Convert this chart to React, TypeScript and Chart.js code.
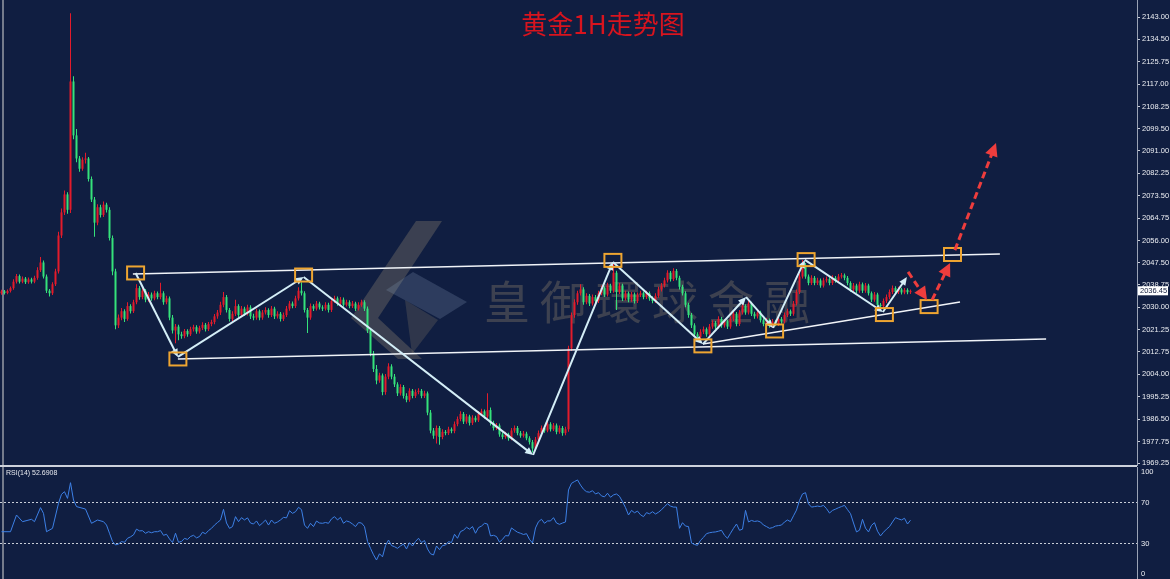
import React, { useEffect, useRef } from "react";
import { Chart, registerables } from "chart.js";
Chart.register(...registerables);

// ---------- data ----------
const titleText = "黄金1H走势图";
const watermarkChars = ["皇", "御", "環", "球", "金", "融"];
const rsiLabel = "RSI(14) 52.6908";
const lastPrice = 2036.45;
const slotCount = 379;
const priceTicks = [2143.0, 2134.5, 2125.75, 2117.0, 2108.25, 2099.5, 2091.0, 2082.25, 2073.5, 2064.75, 2056.0, 2047.5, 2038.75, 2030.0, 2021.25, 2012.75, 2004.0, 1995.25, 1986.5, 1977.75, 1969.25];
const rsiTicks = [100, 70, 30, 0];
const rsiLevels = [70, 30];

const opens = [
  2035.5, 2036.2, 2035.6, 2036.4, 2037.5, 2040.0, 2042.2, 2040.0, 2041.2, 2039.8,
  2040.9, 2040.0, 2041.5, 2044.5, 2047.5, 2042.0, 2036.5, 2035.5, 2039.0, 2044.0,
  2058.0, 2067.0, 2074.0, 2068.0, 2118.0, 2097.0, 2088.0, 2084.0, 2087.5, 2088.0,
  2080.0, 2072.0, 2063.0, 2069.0, 2066.0, 2070.0, 2068.0, 2057.0, 2044.0, 2023.0,
  2026.0, 2028.5, 2025.5, 2030.5, 2028.5, 2032.0, 2037.5, 2034.0, 2036.5, 2033.0,
  2035.0, 2033.5, 2035.5, 2034.0, 2035.5, 2032.0, 2033.5, 2026.0, 2021.0, 2022.5,
  2019.5, 2018.8, 2020.8, 2019.5, 2021.5, 2022.3, 2020.6, 2022.0, 2023.2, 2021.5,
  2023.5, 2024.3, 2026.5, 2028.0, 2031.0, 2034.0, 2029.0, 2025.5, 2027.5, 2030.5,
  2027.0, 2029.5, 2027.5, 2030.0, 2026.5, 2026.0, 2028.5, 2026.0, 2028.0, 2029.0,
  2027.0, 2029.5, 2026.5, 2027.5, 2025.5, 2027.0, 2029.5, 2031.5, 2030.5, 2033.5,
  2036.5, 2035.5, 2029.0, 2026.0, 2030.5, 2029.5, 2031.5, 2030.0, 2029.5, 2031.0,
  2029.0, 2032.5, 2033.5, 2031.5, 2033.0, 2031.0, 2032.0, 2030.5, 2031.5, 2029.5,
  2031.0, 2032.0, 2029.5, 2021.0, 2012.0, 2006.0, 2001.5, 2003.5, 1997.0, 2003.0,
  2007.0, 2003.0, 2000.0, 1996.5, 1999.0, 1995.5, 1994.0, 1997.5, 1995.5, 1997.0,
  1997.5, 1995.5, 1996.5, 1989.0, 1982.0, 1980.0, 1983.0, 1979.5, 1981.5, 1981.0,
  1982.5, 1981.8, 1984.5, 1986.5, 1988.5, 1985.5, 1987.5, 1985.0, 1987.0, 1986.0,
  1988.5, 1989.5, 1987.5, 1990.0, 1985.0, 1983.0, 1984.0, 1980.5, 1979.5, 1980.5,
  1979.0, 1982.0, 1983.0, 1981.0, 1980.0, 1980.8, 1979.0, 1977.5, 1975.0, 1978.5,
  1981.0, 1983.0, 1982.0, 1984.5, 1982.5, 1984.0, 1981.5, 1983.0, 1981.0, 1982.5,
  2014.0, 2027.0, 2032.0, 2035.5, 2037.0, 2032.0, 2034.5, 2031.5, 2034.0, 2032.5,
  2035.5, 2037.5, 2035.0, 2038.5, 2036.5, 2043.5, 2036.0, 2038.5, 2033.5, 2035.5,
  2033.0, 2035.0, 2032.5, 2034.8, 2035.5, 2034.0, 2035.5, 2033.5, 2032.5, 2034.5,
  2037.0, 2038.5, 2040.5, 2043.5, 2041.0, 2044.2, 2041.5, 2038.0, 2035.5, 2031.0,
  2027.0, 2023.0, 2019.5, 2018.5, 2020.5, 2021.5, 2019.5, 2022.5, 2024.0, 2022.5,
  2025.5, 2023.0, 2024.5, 2022.5, 2025.5, 2027.5, 2023.5, 2028.0, 2030.5, 2028.0,
  2031.5, 2027.5, 2026.5, 2028.0, 2025.0, 2023.5, 2025.0, 2023.0, 2024.5, 2023.5,
  2025.5, 2024.5, 2027.0, 2028.5, 2027.5, 2031.5, 2036.0, 2042.0, 2046.5, 2042.0,
  2039.5, 2041.5, 2039.5, 2040.5, 2038.5, 2040.5, 2041.0, 2039.5, 2041.5, 2040.5,
  2042.0, 2042.5, 2041.5, 2039.5, 2037.0, 2038.5, 2036.5, 2039.0, 2036.5, 2038.5,
  2035.5, 2033.0, 2035.0, 2031.0, 2030.5, 2032.5, 2034.0, 2036.0, 2037.5, 2036.0,
  2037.0, 2035.8, 2036.8, 2035.9,
];

const highs = [
  2036.9, 2036.8, 2037.0, 2038.1, 2041.0, 2043.0, 2042.8, 2042.0, 2041.8, 2041.6,
  2041.5, 2042.3, 2045.6, 2049.6, 2048.3, 2042.8, 2037.2, 2039.8, 2045.0, 2059.5,
  2068.5, 2075.5, 2074.8, 2144.6, 2120.0, 2099.5, 2089.0, 2088.5, 2090.2, 2088.6,
  2081.0, 2073.0, 2070.2, 2070.0, 2071.2, 2070.8, 2069.0, 2058.0, 2045.0, 2027.2,
  2029.8, 2029.3, 2032.0, 2031.2, 2033.0, 2039.0, 2038.3, 2037.5, 2037.2, 2036.0,
  2035.8, 2036.5, 2036.2, 2039.6, 2036.3, 2034.5, 2034.2, 2027.0, 2023.5, 2023.2,
  2020.5, 2021.6, 2021.5, 2022.4, 2023.2, 2023.0, 2022.8, 2024.2, 2023.9, 2024.3,
  2025.2, 2027.4, 2029.0, 2032.2, 2036.0, 2034.8, 2029.8, 2028.5, 2033.0, 2031.2,
  2030.5, 2030.2, 2031.0, 2030.8, 2027.5, 2029.5, 2029.2, 2029.0, 2030.0, 2029.7,
  2030.5, 2030.2, 2028.5, 2028.2, 2028.0, 2030.5, 2032.5, 2032.3, 2034.5, 2037.8,
  2039.8, 2036.3, 2029.8, 2031.5, 2031.2, 2032.5, 2032.2, 2030.8, 2032.0, 2031.8,
  2033.5, 2034.5, 2034.2, 2034.0, 2033.8, 2033.0, 2032.8, 2032.5, 2032.2, 2032.0,
  2033.0, 2032.8, 2030.3, 2022.0, 2013.0, 2007.5, 2004.5, 2004.2, 2004.0, 2008.2,
  2007.8, 2004.0, 2000.8, 2000.0, 1999.8, 1996.5, 1998.5, 1998.2, 1998.0, 1998.5,
  1998.2, 1997.5, 1997.2, 1990.0, 1983.0, 1984.0, 1983.8, 1982.5, 1982.2, 1983.5,
  1983.2, 1985.5, 1987.5, 1989.5, 1989.2, 1988.5, 1988.2, 1988.0, 1987.8, 1989.5,
  1990.5, 1990.2, 1996.5, 1991.0, 1985.8, 1985.0, 1984.8, 1981.3, 1981.5, 1981.2,
  1983.0, 1984.0, 1983.8, 1981.8, 1981.8, 1981.5, 1979.8, 1978.3, 1979.5, 1982.0,
  1984.0, 1983.8, 1985.5, 1985.2, 1985.0, 1984.8, 1984.0, 1983.8, 1983.5, 2015.0,
  2028.0, 2033.2, 2036.5, 2039.0, 2037.8, 2035.5, 2035.2, 2035.0, 2034.8, 2036.5,
  2038.5, 2038.2, 2039.6, 2039.2, 2047.2, 2044.3, 2039.5, 2039.2, 2036.5, 2036.2,
  2036.0, 2035.8, 2035.8, 2036.5, 2036.2, 2036.5, 2036.2, 2034.3, 2035.5, 2038.0,
  2039.5, 2041.5, 2044.5, 2044.2, 2045.2, 2044.9, 2042.3, 2038.8, 2036.3, 2031.8,
  2027.8, 2023.8, 2020.3, 2021.5, 2022.5, 2022.2, 2023.5, 2025.0, 2024.7, 2026.5,
  2026.2, 2025.5, 2025.2, 2026.5, 2028.5, 2028.2, 2029.0, 2031.5, 2031.2, 2032.5,
  2032.2, 2028.3, 2029.0, 2028.7, 2025.8, 2026.0, 2025.7, 2025.5, 2025.2, 2026.5,
  2026.2, 2028.0, 2029.5, 2029.2, 2032.5, 2037.0, 2043.2, 2048.5, 2047.3, 2042.8,
  2042.5, 2042.2, 2041.5, 2041.2, 2041.5, 2042.0, 2041.7, 2042.5, 2042.2, 2043.0,
  2043.4, 2043.2, 2042.2, 2040.2, 2039.5, 2039.2, 2040.0, 2039.7, 2039.5, 2039.2,
  2036.2, 2036.0, 2035.7, 2031.7, 2033.5, 2035.0, 2037.0, 2038.5, 2038.2, 2038.0,
  2037.6, 2037.5, 2037.4, 2037.0,
];

const lows = [
  2034.9, 2035.0, 2035.1, 2035.8, 2036.9, 2039.3, 2039.3, 2039.4, 2039.1, 2039.2,
  2039.3, 2039.4, 2040.8, 2043.8, 2041.2, 2035.6, 2034.2, 2034.8, 2038.3, 2043.2,
  2057.0, 2066.0, 2066.5, 2066.8, 2095.5, 2086.5, 2082.8, 2083.2, 2086.0, 2079.0,
  2071.0, 2057.5, 2062.0, 2065.0, 2065.2, 2067.0, 2056.0, 2042.5, 2021.5, 2022.0,
  2025.0, 2024.3, 2024.8, 2027.6, 2027.8, 2031.2, 2033.0, 2033.2, 2032.0, 2032.2,
  2032.6, 2032.8, 2033.2, 2033.2, 2031.0, 2031.2, 2025.0, 2019.8, 2016.0, 2017.2,
  2017.8, 2018.0, 2018.6, 2018.8, 2020.6, 2019.7, 2019.8, 2021.2, 2020.6, 2020.8,
  2022.6, 2023.4, 2025.6, 2027.0, 2030.0, 2028.0, 2024.5, 2024.6, 2026.6, 2026.0,
  2026.2, 2026.6, 2026.8, 2025.5, 2025.0, 2025.2, 2025.0, 2025.2, 2027.2, 2026.0,
  2026.2, 2025.5, 2025.7, 2024.5, 2024.7, 2026.2, 2028.7, 2029.7, 2029.8, 2032.7,
  2034.6, 2028.0, 2020.0, 2025.2, 2028.6, 2028.8, 2029.2, 2028.6, 2028.8, 2028.0,
  2028.2, 2031.7, 2030.6, 2030.8, 2030.2, 2030.3, 2029.7, 2029.8, 2028.6, 2028.8,
  2030.2, 2028.6, 2020.0, 2011.0, 2004.8, 2000.0, 2000.6, 1995.8, 1996.0, 2002.0,
  2002.0, 1999.0, 1995.5, 1995.7, 1994.5, 1993.0, 1993.2, 1994.6, 1994.7, 1996.2,
  1994.6, 1994.7, 1988.0, 1981.0, 1978.8, 1977.0, 1976.5, 1978.6, 1980.2, 1980.3,
  1981.0, 1981.0, 1983.7, 1985.6, 1984.6, 1984.7, 1984.0, 1984.2, 1985.2, 1985.3,
  1987.7, 1986.6, 1986.8, 1984.0, 1982.0, 1982.2, 1979.6, 1978.6, 1978.8, 1978.0,
  1978.2, 1981.2, 1980.2, 1979.2, 1979.3, 1978.2, 1976.6, 1973.5, 1974.2, 1977.6,
  1980.2, 1981.2, 1981.3, 1981.6, 1981.8, 1980.6, 1980.8, 1980.0, 1980.2, 1981.5,
  2013.0, 2026.0, 2031.0, 2034.6, 2031.0, 2031.2, 2030.5, 2030.7, 2031.6, 2031.7,
  2034.7, 2034.0, 2034.2, 2035.6, 2035.7, 2029.0, 2035.2, 2032.5, 2032.7, 2032.0,
  2032.2, 2031.5, 2031.7, 2034.0, 2033.2, 2033.3, 2032.6, 2031.6, 2031.7, 2033.7,
  2036.2, 2037.7, 2039.7, 2040.1, 2040.3, 2040.6, 2037.0, 2034.6, 2030.0, 2026.0,
  2022.0, 2018.5, 2017.2, 2017.6, 2019.6, 2018.6, 2018.7, 2021.7, 2021.6, 2021.7,
  2022.1, 2022.2, 2021.6, 2021.7, 2024.7, 2022.6, 2022.7, 2027.2, 2027.1, 2027.2,
  2026.6, 2025.6, 2025.7, 2024.1, 2022.6, 2022.7, 2022.1, 2022.2, 2022.6, 2022.7,
  2023.6, 2023.7, 2026.2, 2026.6, 2026.7, 2030.7, 2035.2, 2041.2, 2041.1, 2038.6,
  2038.7, 2038.6, 2038.7, 2037.6, 2037.7, 2039.7, 2038.6, 2038.7, 2039.6, 2039.7,
  2041.2, 2040.6, 2038.6, 2036.1, 2036.2, 2035.6, 2035.7, 2035.6, 2035.7, 2034.6,
  2032.1, 2032.2, 2029.5, 2029.6, 2029.7, 2031.7, 2033.2, 2035.2, 2035.1, 2035.2,
  2035.0, 2035.1, 2035.1, 2035.2,
];

const closes = [
  2036.2, 2035.6, 2036.4, 2037.5, 2040.0, 2042.2, 2040.0, 2041.2, 2039.8, 2040.9,
  2040.0, 2041.5, 2044.5, 2047.5, 2042.0, 2036.5, 2035.5, 2039.0, 2044.0, 2058.0,
  2067.0, 2074.0, 2068.0, 2118.0, 2097.0, 2088.0, 2084.0, 2087.5, 2088.0, 2080.0,
  2072.0, 2063.0, 2069.0, 2066.0, 2070.0, 2068.0, 2057.0, 2044.0, 2023.0, 2026.0,
  2028.5, 2025.5, 2030.5, 2028.5, 2032.0, 2037.5, 2034.0, 2036.5, 2033.0, 2035.0,
  2033.5, 2035.5, 2034.0, 2035.5, 2032.0, 2033.5, 2026.0, 2021.0, 2022.5, 2019.5,
  2018.8, 2020.8, 2019.5, 2021.5, 2022.3, 2020.6, 2022.0, 2023.2, 2021.5, 2023.5,
  2024.3, 2026.5, 2028.0, 2031.0, 2034.0, 2029.0, 2025.5, 2027.5, 2030.5, 2027.0,
  2029.5, 2027.5, 2030.0, 2026.5, 2026.0, 2028.5, 2026.0, 2028.0, 2029.0, 2027.0,
  2029.5, 2026.5, 2027.5, 2025.5, 2027.0, 2029.5, 2031.5, 2030.5, 2033.5, 2036.5,
  2035.5, 2029.0, 2026.0, 2030.5, 2029.5, 2031.5, 2030.0, 2029.5, 2031.0, 2029.0,
  2032.5, 2033.5, 2031.5, 2033.0, 2031.0, 2032.0, 2030.5, 2031.5, 2029.5, 2031.0,
  2032.0, 2029.5, 2021.0, 2012.0, 2006.0, 2001.5, 2003.5, 1997.0, 2003.0, 2007.0,
  2003.0, 2000.0, 1996.5, 1999.0, 1995.5, 1994.0, 1997.5, 1995.5, 1997.0, 1997.5,
  1995.5, 1996.5, 1989.0, 1982.0, 1980.0, 1983.0, 1979.5, 1981.5, 1981.0, 1982.5,
  1981.8, 1984.5, 1986.5, 1988.5, 1985.5, 1987.5, 1985.0, 1987.0, 1986.0, 1988.5,
  1989.5, 1987.5, 1990.0, 1985.0, 1983.0, 1984.0, 1980.5, 1979.5, 1980.5, 1979.0,
  1982.0, 1983.0, 1981.0, 1980.0, 1980.8, 1979.0, 1977.5, 1975.0, 1978.5, 1981.0,
  1983.0, 1982.0, 1984.5, 1982.5, 1984.0, 1981.5, 1983.0, 1981.0, 1982.5, 2014.0,
  2027.0, 2032.0, 2035.5, 2037.0, 2032.0, 2034.5, 2031.5, 2034.0, 2032.5, 2035.5,
  2037.5, 2035.0, 2038.5, 2036.5, 2043.5, 2036.0, 2038.5, 2033.5, 2035.5, 2033.0,
  2035.0, 2032.5, 2034.8, 2035.5, 2034.0, 2035.5, 2033.5, 2032.5, 2034.5, 2037.0,
  2038.5, 2040.5, 2043.5, 2041.0, 2044.2, 2041.5, 2038.0, 2035.5, 2031.0, 2027.0,
  2023.0, 2019.5, 2018.5, 2020.5, 2021.5, 2019.5, 2022.5, 2024.0, 2022.5, 2025.5,
  2023.0, 2024.5, 2022.5, 2025.5, 2027.5, 2023.5, 2028.0, 2030.5, 2028.0, 2031.5,
  2027.5, 2026.5, 2028.0, 2025.0, 2023.5, 2025.0, 2023.0, 2024.5, 2023.5, 2025.5,
  2024.5, 2027.0, 2028.5, 2027.5, 2031.5, 2036.0, 2042.0, 2046.5, 2042.0, 2039.5,
  2041.5, 2039.5, 2040.5, 2038.5, 2040.5, 2041.0, 2039.5, 2041.5, 2040.5, 2042.0,
  2042.5, 2041.5, 2039.5, 2037.0, 2038.5, 2036.5, 2039.0, 2036.5, 2038.5, 2035.5,
  2033.0, 2035.0, 2031.0, 2030.5, 2032.5, 2034.0, 2036.0, 2037.5, 2036.0, 2037.0,
  2035.8, 2036.8, 2035.9, 2036.45,
];

const rsiIdx = [
  0, 3, 5, 7, 10, 11, 13, 14, 15, 17, 19, 20, 21, 22, 23, 24, 25, 28, 30, 32,
  34, 35, 36, 37, 38, 39, 40, 41, 42, 43, 44, 45, 46, 47, 48, 49, 50, 51, 52, 53,
  54, 55, 56, 57, 58, 59, 60, 61, 62, 63, 64, 65, 66, 67, 68, 69, 70, 71, 72, 73,
  74, 75, 76, 77, 78, 79, 80, 81, 82, 83, 84, 85, 86, 87, 88, 89, 90, 91, 92, 93,
  94, 95, 96, 97, 98, 99, 100, 101, 102, 103, 104, 105, 106, 107, 108, 109, 110, 111, 112, 113,
  114, 115, 116, 117, 118, 119, 120, 121, 122, 123, 124, 125, 126, 127, 128, 129, 130, 131, 132, 133,
  134, 135, 136, 137, 138, 139, 140, 141, 142, 143, 144, 145, 146, 147, 148, 149, 150, 151, 152, 153,
  154, 155, 156, 157, 158, 159, 160, 161, 162, 163, 164, 165, 166, 167, 168, 169, 170, 171, 172, 173,
  174, 175, 176, 177, 178, 179, 180, 181, 182, 183, 184, 185, 186, 187, 188, 189, 190, 191, 192, 193,
  194, 195, 196, 197, 198, 199, 200, 201, 202, 203, 204, 205, 206, 207, 208, 209, 210, 211, 212, 213,
  214, 215, 216, 217, 218, 219, 220, 221, 222, 223, 224, 225, 226, 227, 228, 229, 230, 231, 232, 233,
  234, 235, 236, 237, 238, 239, 240, 241, 242, 243, 244, 245, 246, 247, 248, 249, 250, 251, 252, 253,
  254, 255, 256, 257, 258, 259, 260, 261, 262, 263, 264, 265, 266, 267, 268, 269, 270, 271, 272, 273,
  274, 275, 276, 277, 278, 279, 280, 281, 282, 283, 284, 285, 286, 287, 288, 289, 290, 291, 292, 293,
  294, 295, 296, 297, 298, 299, 300, 301, 302, 303,
];
const rsiVal = [
  41.5, 41.5, 57.8, 51.3, 53.6, 51.3, 65, 59.4, 41.5, 44.8, 69.2, 78, 80.5, 74, 89.3, 72.4, 66, 63.6, 49.7, 52.9,
  51.3, 48, 40, 32, 28.6, 29.5, 31.9, 31.2, 35.1, 36.5, 38.4, 44, 42.3, 42.5, 40, 41.5, 40.5, 41.5, 41.5, 42.6,
  38, 39, 34.5, 31, 40, 31.2, 32, 35, 34, 36.8, 38, 35.5, 36.8, 41, 39.5, 42.6, 44.8, 48, 50.5, 52.9,
  63.3, 50, 44.8, 46.5, 56.2, 51.3, 55.2, 53, 55, 50, 49, 52, 47.4, 50, 52.9, 48, 52.9, 49.7, 51, 53,
  55.5, 55, 62, 59.4, 61, 65.3, 63, 48, 44.8, 49.7, 46.5, 51.9, 50, 49.7, 50.5, 49.7, 54, 56.2, 53, 55.5,
  49.7, 52, 51, 49, 46.5, 50.4, 50, 46.5, 32, 25.3, 19, 13.9, 20, 17, 28, 33.4, 28, 26.9, 25.3, 27.6,
  29.5, 24.7, 30.8, 27.6, 32, 35.1, 31, 32.9, 24.7, 20, 18.8, 27.6, 24, 28, 28.5, 31.8, 31, 39, 35.1, 41.6,
  43, 45.8, 44, 46.5, 40, 45.5, 47, 49.7, 49, 37.4, 38, 36.8, 31.4, 34, 37.7, 37.4, 45.2, 43, 41, 40,
  38.8, 39.6, 34, 30.5, 45.2, 51.3, 53.6, 49.7, 52, 52, 55.2, 50, 48.7, 50, 51, 82.2, 88.7, 90.4, 92, 87,
  82.9, 80.5, 80, 81.5, 78.3, 79.6, 76.4, 75.5, 79, 75.1, 77.4, 78.3, 76, 70.8, 65, 57.8, 62.3, 60, 61.6, 58,
  56.2, 60.1, 59, 61, 58.8, 60.5, 62.9, 66, 68.7, 66.5, 65.5, 65.5, 44.8, 50.3, 47, 46.5, 30.5, 29, 28.3, 33.1,
  36, 39.6, 40.5, 41, 41.3, 42, 42.9, 38, 35.1, 40, 44.8, 49, 42.9, 44, 62.3, 51, 52.5, 51.5, 52, 51,
  48, 46.5, 44.8, 45.5, 47, 47.5, 48, 51, 52.9, 51.3, 57, 62.6, 72, 78.3, 79.6, 68.7, 65.5, 66, 66.5, 66,
  67.2, 64, 59.7, 62.3, 63.5, 64.9, 66, 67.2, 63, 59.1, 50, 41.3, 43, 53.6, 45, 41.3, 47.7, 50.3, 42, 37.4,
  41, 44, 46.5, 51, 55.2, 54, 53, 54.6, 49, 52.7,
];

// drawn analysis (bar index, price)
const upperLine = [[43.8, 2043.0], [332.8, 2050.8]];
const lowerLine = [[58.8, 2009.9], [348.2, 2017.7]];
const supportLine = [[233.8, 2015.7], [319.5, 2032.1]];
const zigIdx = [44.7, 58.8, 100.7, 177.2, 203.8, 233.8, 248.2, 257.2, 267.8, 293.8, 301.8];
const zigPrice = [2043.4, 2010.7, 2041.8, 1972.5, 2047.7, 2015.7, 2034.0, 2022.0, 2048.5, 2028.2, 2041.8];
const boxIdx = [44.7, 58.8, 100.7, 203.8, 233.8, 257.7, 268.2, 294.3, 309.2, 317.0];
const boxPrice = [2043.4, 2009.9, 2042.6, 2048.3, 2015.0, 2020.8, 2048.6, 2027.2, 2030.3, 2050.6];
const forecastFrom = [[302.2, 2043.8], [310.2, 2032.9], [317.8, 2052.3]];
const forecastTo = [[308.5, 2032.9], [316.2, 2047.3], [331.5, 2094.0]];

// ---------- styles ----------
const BG = "#101e41";
const RED = "#e31b2b";
const GREEN = "#35e27b";
const AXIS = "#9aa3b5";
const LABEL = "#eceef3";
const TICK_FONT = { family: "'Liberation Sans', Arial, sans-serif", size: 7.5 };

function arrowHead(ctx: CanvasRenderingContext2D, x1: number, y1: number, x2: number, y2: number, len: number, half: number) {
  const a = Math.atan2(y2 - y1, x2 - x1);
  const c = Math.cos(a), s = Math.sin(a);
  ctx.beginPath();
  ctx.moveTo(x2, y2);
  ctx.lineTo(x2 - len * c + half * s, y2 - len * s - half * c);
  ctx.lineTo(x2 - len * c - half * s, y2 - len * s + half * c);
  ctx.closePath();
  ctx.fill();
}

function poly(ctx: CanvasRenderingContext2D, pts: number[][]) {
  ctx.beginPath();
  pts.forEach((p, i) => (i ? ctx.lineTo(p[0], p[1]) : ctx.moveTo(p[0], p[1])));
  ctx.closePath();
  ctx.fill();
}

const overlayPlugin = {
  id: "overlay",
  beforeDatasetsDraw(chart: any) {
    const ctx: CanvasRenderingContext2D = chart.ctx;
    ctx.save();
    ctx.fillStyle = "rgba(160,145,118,0.3)";
    poly(ctx, [[416, 221], [442, 221], [378, 318], [351, 318]]);
    poly(ctx, [[351, 318], [378, 318], [422, 359], [398, 359]]);
    ctx.fillStyle = "rgba(140,158,190,0.24)";
    poly(ctx, [[413, 272], [467, 302], [440, 319], [386, 290]]);
    ctx.fillStyle = "rgba(120,112,100,0.3)";
    poly(ctx, [[405, 300], [438, 320], [412, 354]]);
    ctx.font = '46px "Noto Sans CJK TC"';
    ctx.fillStyle = "rgba(165,148,115,0.3)";
    ctx.textAlign = "center";
    ctx.textBaseline = "middle";
    watermarkChars.forEach((ch, k) => ctx.fillText(ch, 507 + 56 * k, 302));
    ctx.restore();
  },
  afterDatasetsDraw(chart: any) {
    const ctx: CanvasRenderingContext2D = chart.ctx;
    const xs = chart.scales.x, ys = chart.scales.y;
    const P = (i: number, p: number) => [xs.getPixelForValue(i), ys.getPixelForValue(p)];
    ctx.save();
    ctx.strokeStyle = "#f1f4f8";
    ctx.lineWidth = 1.5;
    [upperLine, lowerLine, supportLine].forEach((ln) => {
      const a = P(ln[0][0], ln[0][1]), b = P(ln[1][0], ln[1][1]);
      ctx.beginPath(); ctx.moveTo(a[0], a[1]); ctx.lineTo(b[0], b[1]); ctx.stroke();
    });
    ctx.strokeStyle = "#d4eef7";
    ctx.fillStyle = "#d4eef7";
    ctx.lineWidth = 2;
    for (let k = 1; k < zigIdx.length; k++) {
      const a = P(zigIdx[k - 1], zigPrice[k - 1]), b = P(zigIdx[k], zigPrice[k]);
      const ang = Math.atan2(b[1] - a[1], b[0] - a[0]);
      ctx.beginPath();
      ctx.moveTo(a[0], a[1]);
      ctx.lineTo(b[0] - 5 * Math.cos(ang), b[1] - 5 * Math.sin(ang));
      ctx.stroke();
      arrowHead(ctx, a[0], a[1], b[0], b[1], 8, 3.6);
    }
    ctx.strokeStyle = "#eea531";
    ctx.lineWidth = 2;
    boxIdx.forEach((bi, k) => {
      const c = P(bi, boxPrice[k]);
      ctx.strokeRect(c[0] - 8.5, c[1] - 6.5, 17, 13);
    });
    ctx.strokeStyle = "#ee3d3d";
    ctx.fillStyle = "#ee3d3d";
    ctx.lineWidth = 3;
    forecastFrom.forEach((f, k) => {
      const a = P(f[0], f[1]), b = P(forecastTo[k][0], forecastTo[k][1]);
      const ang = Math.atan2(b[1] - a[1], b[0] - a[0]);
      ctx.setLineDash([7, 4]);
      ctx.beginPath();
      ctx.moveTo(a[0], a[1]);
      ctx.lineTo(b[0] - 11 * Math.cos(ang), b[1] - 11 * Math.sin(ang));
      ctx.stroke();
      ctx.setLineDash([]);
      arrowHead(ctx, a[0], a[1], b[0], b[1], 13, 6.5);
    });
    ctx.restore();
  },
  afterDraw(chart: any) {
    const ctx: CanvasRenderingContext2D = chart.ctx;
    const ys = chart.scales.y;
    ctx.save();
    ctx.font = '26px "Noto Sans CJK SC"';
    ctx.fillStyle = "#d8141e";
    ctx.textAlign = "center";
    ctx.textBaseline = "middle";
    ctx.fillText(titleText, 603, 24);
    const y = ys.getPixelForValue(lastPrice);
    const left = chart.chartArea.right + 1;
    ctx.fillStyle = "#ffffff";
    ctx.fillRect(left, y - 4.5, 30, 9);
    ctx.fillStyle = "#101a3a";
    ctx.font = "7.5px 'Liberation Sans', Arial, sans-serif";
    ctx.textAlign = "left";
    ctx.fillText(lastPrice.toFixed(2), left + 2, y + 0.5);
    ctx.restore();
  },
};

const rsiTextPlugin = {
  id: "rsiText",
  afterDraw(chart: any) {
    const ctx: CanvasRenderingContext2D = chart.ctx;
    ctx.save();
    ctx.font = "7px 'Liberation Sans', Arial, sans-serif";
    ctx.fillStyle = "#e6e8ee";
    ctx.textBaseline = "middle";
    ctx.fillText(rsiLabel, 6, 6);
    ctx.restore();
  },
};

function mainConfig(): any {
  const idx = closes.map((_, i) => i);
  const colors = idx.map((i) => (closes[i] >= opens[i] ? RED : GREEN));
  return {
    type: "bar",
    data: {
      datasets: [
        { data: idx.map((i) => ({ x: i, y: [lows[i], highs[i]] })), backgroundColor: colors, barThickness: 1, grouped: false, order: 2, borderWidth: 0, inflateAmount: 0 },
        { data: idx.map((i) => ({ x: i, y: [opens[i], closes[i]] })), backgroundColor: colors, barThickness: 2, grouped: false, order: 1, borderWidth: 0, inflateAmount: 0, minBarLength: 1 },
      ],
    },
    options: {
      responsive: false,
      animation: false,
      devicePixelRatio: 1,
      events: [],
      layout: { padding: { left: 0, right: 0, top: 0, bottom: 7 } },
      plugins: { legend: { display: false }, tooltip: { enabled: false } },
      scales: {
        x: { type: "linear", min: -0.5, max: slotCount - 0.5, display: false, offset: false, bounds: "data" },
        y: {
          position: "right",
          min: 1968.59,
          max: 2149.74,
          bounds: "data",
          afterBuildTicks: (s: any) => { s.ticks = priceTicks.map((v) => ({ value: v })); },
          afterFit: (s: any) => { s.width = 33; s.paddingTop = 0; s.paddingBottom = 0; },
          grid: { drawOnChartArea: false, drawTicks: true, tickLength: 3, tickColor: "#c8ccd8", tickWidth: 1 },
          border: { display: true, color: AXIS, width: 1 },
          ticks: { color: LABEL, font: TICK_FONT, padding: 2, autoSkip: false, callback: (v: any) => Number(v).toFixed(2) },
        },
      },
    },
    plugins: [overlayPlugin],
  };
}

function rsiConfig(): any {
  return {
    type: "line",
    data: {
      datasets: [
        { data: rsiIdx.map((x, k) => ({ x, y: rsiVal[k] })), borderColor: "#3d80e6", borderWidth: 1, pointRadius: 0, tension: 0, fill: false },
      ],
    },
    options: {
      responsive: false,
      animation: false,
      devicePixelRatio: 1,
      events: [],
      layout: { padding: 0 },
      plugins: { legend: { display: false }, tooltip: { enabled: false } },
      scales: {
        x: { type: "linear", min: -0.5, max: slotCount - 0.5, display: false, offset: false, bounds: "data" },
        y: {
          position: "right",
          min: -4.6,
          max: 104.6,
          bounds: "data",
          afterBuildTicks: (s: any) => { s.ticks = rsiTicks.map((v) => ({ value: v })); },
          afterFit: (s: any) => { s.width = 33; s.paddingTop = 0; s.paddingBottom = 0; },
          grid: {
            drawTicks: false,
            lineWidth: 1,
            color: (c: any) => (c.tick && rsiLevels.includes(c.tick.value) ? "#c9ced8" : "rgba(0,0,0,0)"),
          },
          border: { display: true, color: AXIS, width: 1, dash: [2, 2] },
          ticks: { color: LABEL, font: TICK_FONT, padding: 4, autoSkip: false, callback: (v: any) => String(v) },
        },
      },
    },
    plugins: [rsiTextPlugin],
  };
}

export default function App() {
  const mainRef = useRef<HTMLCanvasElement>(null);
  const rsiRef = useRef<HTMLCanvasElement>(null);
  useEffect(() => {
    const main = new Chart(mainRef.current as HTMLCanvasElement, mainConfig());
    const rsi = new Chart(rsiRef.current as HTMLCanvasElement, rsiConfig());
    return () => {
      main.destroy();
      rsi.destroy();
    };
  }, []);
  return (
    <div style={{ position: "fixed", left: 0, top: 0, width: 1170, height: 579, background: BG, overflow: "hidden" }}>
      <div style={{ position: "absolute", left: 2, top: 0, width: 2, height: 579, background: "#747b8c" }} />
      <div style={{ position: "absolute", left: 0, top: 465, width: 1137, height: 2, background: "#cdd2dc" }} />
      <canvas ref={rsiRef} width={1170} height={112} style={{ position: "absolute", left: 0, top: 467, display: "block" }} />
      <canvas ref={mainRef} width={1170} height={472} style={{ position: "absolute", left: 0, top: 0, display: "block" }} />
    </div>
  );
}
